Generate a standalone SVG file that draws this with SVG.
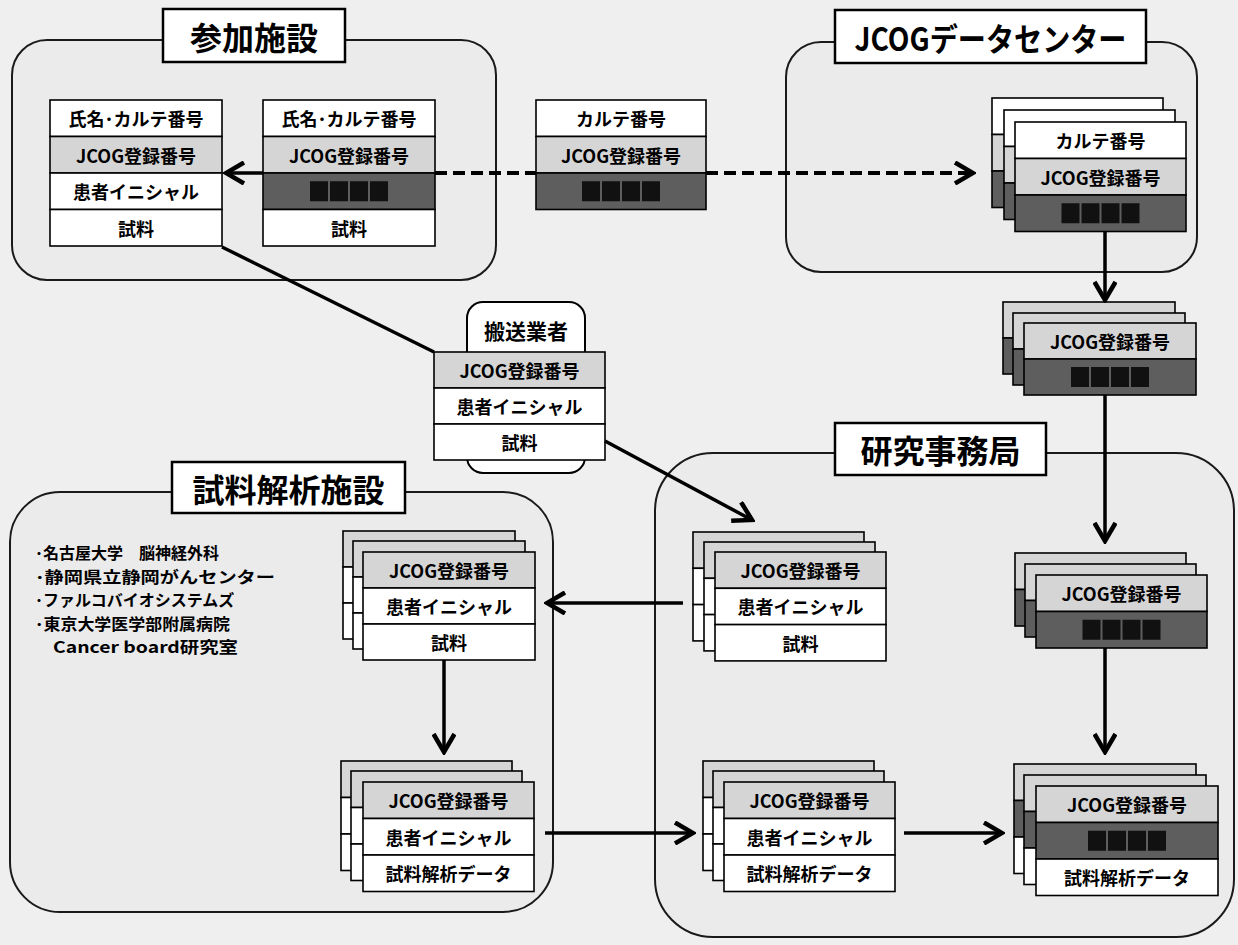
<svg xmlns="http://www.w3.org/2000/svg" xmlns:xlink="http://www.w3.org/1999/xlink" width="1238" height="945" viewBox="0 0 1238 945">
<style>
.bg{fill:#efefef}
.box{fill:#ebebeb;stroke:#1a1a1a;stroke-width:2}
.ttl{fill:#fff;stroke:#000;stroke-width:2.5}
.w{fill:#fff;stroke:#000;stroke-width:1.6}
.l{fill:#d5d5d5;stroke:#000;stroke-width:1.6}
.d{fill:#5e5e5e;stroke:#000;stroke-width:1.6}
.t{font-family:"Noto Sans CJK JP","Noto Sans",sans-serif;font-weight:700;font-size:18px;text-anchor:middle;dominant-baseline:central;fill:#000}
.big{font-size:32px}
.mid{font-size:21px}
.lst{font-size:16px;text-anchor:start}
.ln{fill:none;stroke:#000;stroke-width:3.5}
.ar{marker-end:url(#chev)}
.dash{stroke-dasharray:12 6;stroke-width:4}
</style>
<defs>
<marker id="chev" viewBox="0 0 24 24" refX="21" refY="12" markerWidth="24" markerHeight="24" markerUnits="userSpaceOnUse" orient="auto">
<path d="M3,1.5 L21,12 L3,22.5" fill="none" stroke="#000" stroke-width="4.5"/>
</marker>
<g id="blob">
<rect x="-39" y="-10" width="18" height="20" fill="#111"/>
<rect x="-19" y="-10" width="18" height="20" fill="#111"/>
<rect x="1" y="-10" width="18" height="20" fill="#111"/>
<rect x="21" y="-10" width="18" height="20" fill="#111"/>
</g>
</defs>
<rect class="bg" x="0" y="0" width="1238" height="945"/>

<g id="sanka">
<rect class="box" x="12" y="40" width="484" height="240" rx="35"/>
<rect class="ttl" x="163" y="9" width="182" height="53"/>
<text class="t big" x="254" y="36">参加施設</text>
</g>

<g id="table-sanka-1">
<rect class="w" x="50" y="100" width="172" height="36.5"/>
<rect class="l" x="50" y="136.5" width="172" height="36.5"/>
<rect class="w" x="50" y="173" width="172" height="36.5"/>
<rect class="w" x="50" y="209.5" width="172" height="36.5"/>
<text class="t" x="136" y="118.25">氏名･カルテ番号</text>
<text class="t" x="136" y="154.75">JCOG登録番号</text>
<text class="t" x="136" y="191.25">患者イニシャル</text>
<text class="t" x="136" y="227.75">試料</text>
</g>

<g id="table-sanka-2">
<rect class="w" x="263" y="100" width="172" height="36.5"/>
<rect class="l" x="263" y="136.5" width="172" height="36.5"/>
<rect class="d" x="263" y="173" width="172" height="36.5"/>
<rect class="w" x="263" y="209.5" width="172" height="36.5"/>
<text class="t" x="349" y="118.25">氏名･カルテ番号</text>
<text class="t" x="349" y="154.75">JCOG登録番号</text>
<use xlink:href="#blob" x="349" y="191.25"/>
<text class="t" x="349" y="227.75">試料</text>
</g>

<g id="table-transfer">
<rect class="w" x="536" y="100" width="170" height="36.5"/>
<rect class="l" x="536" y="136.5" width="170" height="36.5"/>
<rect class="d" x="536" y="173" width="170" height="36.5"/>
<text class="t" x="621" y="118.25">カルテ番号</text>
<text class="t" x="621" y="154.75">JCOG登録番号</text>
<use xlink:href="#blob" x="621" y="191.25"/>
</g>

<g id="datacenter">
<rect class="box" x="786" y="42" width="411" height="230" rx="35"/>
<rect class="ttl" x="835" y="10" width="311" height="53"/>
<text class="t big" x="990.5" y="37" textLength="272" lengthAdjust="spacingAndGlyphs">JCOGデータセンター</text>
</g>

<g id="stack-dc">
<rect class="w" x="992" y="98" width="171" height="36.5"/>
<rect class="l" x="992" y="134.5" width="171" height="36.5"/>
<rect class="d" x="992" y="171" width="171" height="36.5"/>
<rect class="w" x="1004" y="110" width="171" height="36.5"/>
<rect class="l" x="1004" y="146.5" width="171" height="36.5"/>
<rect class="d" x="1004" y="183" width="171" height="36.5"/>
<rect class="w" x="1015" y="122" width="171" height="36.5"/>
<rect class="l" x="1015" y="158.5" width="171" height="36.5"/>
<rect class="d" x="1015" y="195" width="171" height="36.5"/>
<text class="t" x="1100.5" y="140.25">カルテ番号</text>
<text class="t" x="1100.5" y="176.75">JCOG登録番号</text>
<use xlink:href="#blob" x="1100.5" y="213.25"/>
</g>

<g id="stack-dc-out">
<rect class="l" x="1003" y="302" width="172" height="36"/>
<rect class="d" x="1003" y="338" width="172" height="36"/>
<rect class="l" x="1013" y="313" width="172" height="36"/>
<rect class="d" x="1013" y="349" width="172" height="36"/>
<rect class="l" x="1024" y="323" width="172" height="36"/>
<rect class="d" x="1024" y="359" width="172" height="36"/>
<text class="t" x="1110" y="341">JCOG登録番号</text>
<use xlink:href="#blob" x="1110" y="377"/>
</g>

<g id="carrier">
<rect x="467" y="302" width="118" height="171" rx="16" fill="#fff" stroke="#000" stroke-width="2"/>
<text class="t mid" x="526" y="330">搬送業者</text>
<rect class="l" x="434" y="352" width="171" height="36"/>
<rect class="w" x="434" y="388" width="171" height="36"/>
<rect class="w" x="434" y="424" width="171" height="36"/>
<text class="t" x="519.5" y="370">JCOG登録番号</text>
<text class="t" x="519.5" y="406">患者イニシャル</text>
<text class="t" x="519.5" y="442">試料</text>
</g>

<g id="office">
<rect class="box" x="655" y="453" width="579" height="484" rx="58"/>
<rect class="ttl" x="835" y="423" width="211" height="52"/>
<text class="t big" x="940.5" y="449">研究事務局</text>
</g>

<g id="analysis">
<rect class="box" x="10" y="492" width="543" height="420" rx="50"/>
<rect class="ttl" x="172" y="462" width="233" height="51"/>
<text class="t big" x="288.5" y="488">試料解析施設</text>
<text class="t lst" x="35" y="552">･名古屋大学　脳神経外科</text>
<text class="t lst" x="35" y="575.5" textLength="240" lengthAdjust="spacingAndGlyphs">･静岡県立静岡がんセンター</text>
<text class="t lst" x="35" y="599">･ファルコバイオシステムズ</text>
<text class="t lst" x="35" y="622.5" textLength="195" lengthAdjust="spacingAndGlyphs">･東京大学医学部附属病院</text>
<text class="t lst" x="53" y="646" textLength="185" lengthAdjust="spacingAndGlyphs">Cancer board研究室</text>
</g>

<g id="stack-office-sample">
<rect class="l" x="693" y="532" width="171" height="36.3"/>
<rect class="w" x="693" y="568.3" width="171" height="36.3"/>
<rect class="w" x="693" y="604.6" width="171" height="36.3"/>
<rect class="l" x="704" y="542" width="171" height="36.3"/>
<rect class="w" x="704" y="578.3" width="171" height="36.3"/>
<rect class="w" x="704" y="614.6" width="171" height="36.3"/>
<rect class="l" x="715" y="552" width="171" height="36.3"/>
<rect class="w" x="715" y="588.3" width="171" height="36.3"/>
<rect class="w" x="715" y="624.6" width="171" height="36.3"/>
<text class="t" x="800.5" y="570.15">JCOG登録番号</text>
<text class="t" x="800.5" y="606.45">患者イニシャル</text>
<text class="t" x="800.5" y="642.75">試料</text>
</g>

<g id="stack-office-id">
<rect class="l" x="1015" y="553" width="171" height="36.5"/>
<rect class="d" x="1015" y="589.5" width="171" height="36.5"/>
<rect class="l" x="1025" y="564" width="171" height="36.5"/>
<rect class="d" x="1025" y="600.5" width="171" height="36.5"/>
<rect class="l" x="1036" y="575" width="171" height="36.5"/>
<rect class="d" x="1036" y="611.5" width="171" height="36.5"/>
<text class="t" x="1121.5" y="593.25">JCOG登録番号</text>
<use xlink:href="#blob" x="1121.5" y="629.75"/>
</g>

<g id="stack-office-data">
<rect class="l" x="703" y="761" width="171" height="36.5"/>
<rect class="w" x="703" y="797.5" width="171" height="36.5"/>
<rect class="w" x="703" y="834" width="171" height="36.5"/>
<rect class="l" x="713" y="771" width="171" height="36.5"/>
<rect class="w" x="713" y="807.5" width="171" height="36.5"/>
<rect class="w" x="713" y="844" width="171" height="36.5"/>
<rect class="l" x="724" y="782" width="171" height="36.5"/>
<rect class="w" x="724" y="818.5" width="171" height="36.5"/>
<rect class="w" x="724" y="855" width="171" height="36.5"/>
<text class="t" x="809.5" y="800.25">JCOG登録番号</text>
<text class="t" x="809.5" y="836.75">患者イニシャル</text>
<text class="t" x="809.5" y="873.25">試料解析データ</text>
</g>

<g id="stack-office-final">
<rect class="l" x="1014" y="764" width="182" height="36.5"/>
<rect class="d" x="1014" y="800.5" width="182" height="36.5"/>
<rect class="w" x="1014" y="837" width="182" height="36.5"/>
<rect class="l" x="1024" y="775" width="182" height="36.5"/>
<rect class="d" x="1024" y="811.5" width="182" height="36.5"/>
<rect class="w" x="1024" y="848" width="182" height="36.5"/>
<rect class="l" x="1036" y="786" width="182" height="36.5"/>
<rect class="d" x="1036" y="822.5" width="182" height="36.5"/>
<rect class="w" x="1036" y="859" width="182" height="36.5"/>
<text class="t" x="1127" y="804.25">JCOG登録番号</text>
<use xlink:href="#blob" x="1127" y="840.75"/>
<text class="t" x="1127" y="877.25">試料解析データ</text>
</g>

<g id="stack-analysis-sample">
<rect class="l" x="343" y="531" width="172" height="36"/>
<rect class="w" x="343" y="567" width="172" height="36"/>
<rect class="w" x="343" y="603" width="172" height="36"/>
<rect class="l" x="353" y="541" width="172" height="36"/>
<rect class="w" x="353" y="577" width="172" height="36"/>
<rect class="w" x="353" y="613" width="172" height="36"/>
<rect class="l" x="363" y="552" width="172" height="36"/>
<rect class="w" x="363" y="588" width="172" height="36"/>
<rect class="w" x="363" y="624" width="172" height="36"/>
<text class="t" x="449" y="570">JCOG登録番号</text>
<text class="t" x="449" y="606">患者イニシャル</text>
<text class="t" x="449" y="642">試料</text>
</g>

<g id="stack-analysis-data">
<rect class="l" x="341" y="761" width="171" height="36.5"/>
<rect class="w" x="341" y="797.5" width="171" height="36.5"/>
<rect class="w" x="341" y="834" width="171" height="36.5"/>
<rect class="l" x="351" y="771" width="171" height="36.5"/>
<rect class="w" x="351" y="807.5" width="171" height="36.5"/>
<rect class="w" x="351" y="844" width="171" height="36.5"/>
<rect class="l" x="363" y="782" width="171" height="36.5"/>
<rect class="w" x="363" y="818.5" width="171" height="36.5"/>
<rect class="w" x="363" y="855" width="171" height="36.5"/>
<text class="t" x="448.5" y="800.25">JCOG登録番号</text>
<text class="t" x="448.5" y="836.75">患者イニシャル</text>
<text class="t" x="448.5" y="873.25">試料解析データ</text>
</g>

<g id="connectors">
<line class="ln ar" x1="263" y1="173" x2="226" y2="173"/>
<line class="ln dash" x1="435" y1="173" x2="536" y2="173"/>
<line class="ln dash ar" x1="706" y1="173" x2="973" y2="173"/>
<line class="ln" x1="222" y1="247" x2="434" y2="352"/>
<line class="ln ar" x1="605" y1="441" x2="752" y2="520"/>
<line class="ln ar" x1="1105" y1="231.5" x2="1105" y2="300"/>
<line class="ln ar" x1="1105" y1="395" x2="1105" y2="541"/>
<line class="ln ar" x1="1105" y1="648" x2="1105" y2="752"/>
<line class="ln ar" x1="683" y1="603" x2="547" y2="603"/>
<line class="ln ar" x1="444" y1="660" x2="444" y2="752"/>
<line class="ln ar" x1="545" y1="833" x2="693" y2="833"/>
<line class="ln ar" x1="904" y1="833" x2="1002" y2="833"/>
</g>
</svg>
